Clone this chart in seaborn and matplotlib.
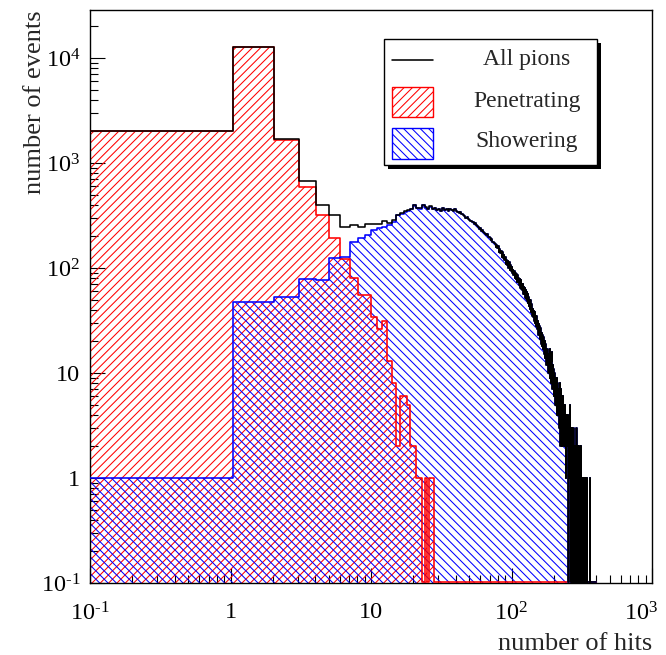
import numpy as np
import pandas as pd
import matplotlib
matplotlib.use("Agg")
import matplotlib.pyplot as plt
import matplotlib.transforms as mtransforms
import seaborn as sns
from matplotlib.patches import Rectangle
from matplotlib.lines import Line2D
from matplotlib.ticker import FixedLocator, FixedFormatter, LogLocator, NullFormatter

# ---------------------------------------------------------------------------
# Hit multiplicity histograms: one bin per number of hits
# ---------------------------------------------------------------------------
n_bins = 400
bin_edges = np.arange(n_bins + 1) + 0.05
bin_centres = bin_edges[:-1] + 0.5

# penetrating pions, counts per bin (bins not listed are empty)
penetrating_counts = [
    2000, 12700, 1650, 595, 320, 192, 122, 80, 55, 55,
    34, 26, 31, 13, 8, 2, 6, 6, 5, 2,
    2, 1, 1, 0, 1, 0, 1, 1,
]

# showering pions, counts per bin (bins not listed are empty)
showering_counts = [
    1, 47, 53, 78, 76, 124, 126, 178, 193, 206,
    230, 238, 246, 255, 276, 318, 330, 344, 352, 366,
    398, 372, 368, 402, 376, 366, 384, 362, 372, 358,
    366, 352, 370, 358, 362, 350, 366, 356, 348, 362,
    352, 344, 336, 340, 326, 318, 312, 300, 304, 292,
    286, 280, 272, 276, 262, 266, 254, 250, 246, 236,
    238, 226, 230, 220, 216, 212, 206, 210, 198, 196,
    192, 186, 188, 178, 176, 172, 168, 160, 164, 154,
    162, 141, 150, 138, 146, 126, 141, 124, 134, 118,
    127, 110, 119, 106, 116, 99, 113, 96, 107, 93,
    103, 89, 96, 85, 94, 80, 90, 79, 88, 73,
    86, 73, 80, 69, 79, 64, 76, 63, 71, 61,
    71, 57, 66, 56, 64, 52, 61, 51, 59, 48,
    56, 46, 53, 43, 50, 41, 49, 38, 45, 37,
    44, 35, 41, 34, 39, 31, 38, 30, 35, 28,
    35, 27, 32, 26, 31, 23, 29, 23, 28, 21,
    27, 21, 25, 19, 24, 18, 23, 17, 22, 16,
    22, 15, 20, 14, 19, 14, 18, 12, 17, 12,
    17, 11, 16, 10, 15, 11, 14, 9, 17, 9,
    14, 8, 13, 16, 11, 7, 12, 7, 11, 6,
    11, 6, 10, 6, 9, 5, 9, 5, 8, 5,
    9, 4, 8, 4, 8, 4, 7, 3, 7, 3,
    8, 3, 6, 2, 7, 3, 6, 2, 5, 2,
    4, 6, 3, 5, 2, 4, 5, 3, 4, 2,
    5, 3, 2, 4, 3, 1, 4, 2, 3, 2,
    3, 1, 4, 2, 0, 3, 2, 1, 3, 2,
    5, 1, 2, 0, 3, 2, 1, 2, 0, 3,
    1, 2, 1, 0, 2, 1, 3, 0, 1, 2,
    1, 0, 2, 1, 0, 1, 2, 0, 1, 0,
    3, 1, 0, 1, 0, 2, 1, 0, 1, 0,
    1, 0, 1, 0, 2, 0, 1, 0, 0, 1,
    0, 1, 0, 2, 1, 0, 0, 1, 0, 1,
    0, 0, 1, 0, 1, 0, 0, 1, 0, 0,
    1, 0, 0, 1, 0, 0, 1, 0, 0, 0,
    1, 0, 0, 1, 0, 0, 0, 0, 0, 0,
    0, 0, 0, 0, 0, 0, 0, 0, 0, 0,
    0, 0, 1,
]

x_ticks = [0.1, 1, 10, 100, 1000]
x_tick_labels = [r"$10^{\text{-}1}$", "1", "10", r"$10^{2}$", r"$10^{3}$"]
y_ticks = [0.1, 1, 10, 100, 1000, 10000]
y_tick_labels = [r"$10^{\text{-}1}$", "1", "10", r"$10^{2}$", r"$10^{3}$",
                 r"$10^{4}$"]

legend_labels = ["All pions", "Penetrating", "Showering"]


def padded(counts):
    out = np.zeros(n_bins)
    out[:len(counts)] = counts
    return out


penetrating = padded(penetrating_counts)
showering = padded(showering_counts)
all_pions = penetrating + showering

# empty bins are drawn on the bottom of the frame
y_min, y_max = 0.1, 2.86e4
floor = y_min * 1.025

df = pd.DataFrame({
    "hits": bin_centres,
    "penetrating": penetrating,
    "showering": showering,
    "penetrating_line": np.maximum(penetrating, floor),
    "showering_line": np.maximum(showering, floor),
    "all_line": np.maximum(all_pions, floor),
})

# ---------------------------------------------------------------------------
# Style
# ---------------------------------------------------------------------------
sns.set_style("white")
serif = "Liberation Serif"
plt.rcParams.update({
    "font.family": [serif, "DejaVu Serif"],
    "mathtext.fontset": "custom",
    "mathtext.rm": serif,
    "mathtext.it": serif + ":italic",
    "mathtext.bf": serif + ":bold",
    "axes.edgecolor": "black",
    "axes.linewidth": 1.0,
    "hatch.linewidth": 0.75,
    "xtick.color": "black",
    "ytick.color": "black",
})

fig = plt.figure(figsize=(6.66, 6.55), dpi=100)
fig.patch.set_facecolor("white")
ax = fig.add_axes([90 / 666, 72 / 655, 562 / 666, 573 / 655])

common = dict(data=df, x="hits", bins=list(bin_edges), element="step", ax=ax)
hatch_pen = "////"
hatch_show = "\\\\\\\\"
lw = 1.15

# hatched areas
sns.histplot(weights="penetrating", fill=True, color="red", facecolor="none",
             edgecolor="red", linewidth=0, hatch=hatch_pen, alpha=1, **common)
sns.histplot(weights="showering", fill=True, color="blue", facecolor="none",
             edgecolor="blue", linewidth=0, hatch=hatch_show, alpha=1, **common)

# outlines
sns.histplot(weights="penetrating_line", fill=False, color="red",
             linewidth=lw, zorder=3, **common)
sns.histplot(weights="showering_line", fill=False, color="blue",
             linewidth=lw, zorder=3.1, **common)
sns.histplot(weights="all_line", fill=False, color="black",
             linewidth=lw, zorder=3.2, **common)

ax.set_xscale("log")
ax.set_yscale("log")
ax.set_xlim(0.1, 1000)
ax.set_ylim(y_min, y_max)

ax.xaxis.set_major_locator(FixedLocator(x_ticks))
ax.xaxis.set_major_formatter(FixedFormatter(x_tick_labels))
ax.xaxis.set_minor_locator(LogLocator(base=10, subs=np.arange(2, 10)))
ax.xaxis.set_minor_formatter(NullFormatter())
ax.yaxis.set_major_locator(FixedLocator(y_ticks))
ax.yaxis.set_major_formatter(FixedFormatter(y_tick_labels))
ax.yaxis.set_minor_locator(LogLocator(base=10, subs=np.arange(2, 10), numticks=20))
ax.yaxis.set_minor_formatter(NullFormatter())

ax.tick_params(which="both", direction="in", top=False, right=False,
               bottom=True, left=True, width=0.8, labelsize=17.5)
ax.tick_params(which="major", length=10.5)
ax.tick_params(which="minor", length=5.5)
ax.tick_params(axis="x", which="major", pad=14)
ax.tick_params(axis="y", which="major", pad=7)

ax.set_xlabel("number of hits", fontsize=19, loc="right", labelpad=5.5)
ax.set_ylabel("number of events", fontsize=19, loc="top", labelpad=-4)

# keep the last x label inside the canvas
shift_left = mtransforms.ScaledTranslation(-8 / 72, 0, fig.dpi_scale_trans)
last_label = ax.get_xticklabels()[-1]
last_label.set_transform(last_label.get_transform() + shift_left)

for s in ax.spines.values():
    s.set_zorder(2.5)

# ---------------------------------------------------------------------------
# Legend box with drop shadow and centred entry texts
# ---------------------------------------------------------------------------
def fx(px):
    return (px - 90) / 562


def fy(py):
    return (583 - py) / 573


tr = ax.transAxes
bx0, bx1, by0, by1 = fx(384), fx(597), fy(165), fy(39)
sh_dx, sh_dy = 4 / 562, 4 / 573
ax.add_patch(Rectangle((bx0 + sh_dx, by0 - sh_dy), bx1 - bx0, by1 - by0,
                       transform=tr, facecolor="black", edgecolor="black",
                       lw=0, zorder=6))
ax.add_patch(Rectangle((bx0, by0), bx1 - bx0, by1 - by0, transform=tr,
                       facecolor="white", edgecolor="black", lw=1.0, zorder=7))

sx0, sx1 = fx(392), fx(433)
ax.add_line(Line2D([sx0, sx1], [fy(60), fy(60)], transform=tr, color="black",
                   lw=lw, zorder=8))
ax.add_patch(Rectangle((sx0, fy(117)), sx1 - sx0, fy(87) - fy(117),
                       transform=tr, facecolor="none", edgecolor="red",
                       hatch=hatch_pen, lw=1.0, zorder=8))
ax.add_patch(Rectangle((sx0, fy(159)), sx1 - sx0, fy(128) - fy(159),
                       transform=tr, facecolor="none", edgecolor="blue",
                       hatch=hatch_show, lw=1.0, zorder=8))

for label, py in zip(legend_labels, [60, 101, 141]):
    ax.text(fx(527), fy(py), label, transform=tr, ha="center", va="center",
            fontsize=17, zorder=9)

fig.savefig("out.png", dpi=100, facecolor="white")
